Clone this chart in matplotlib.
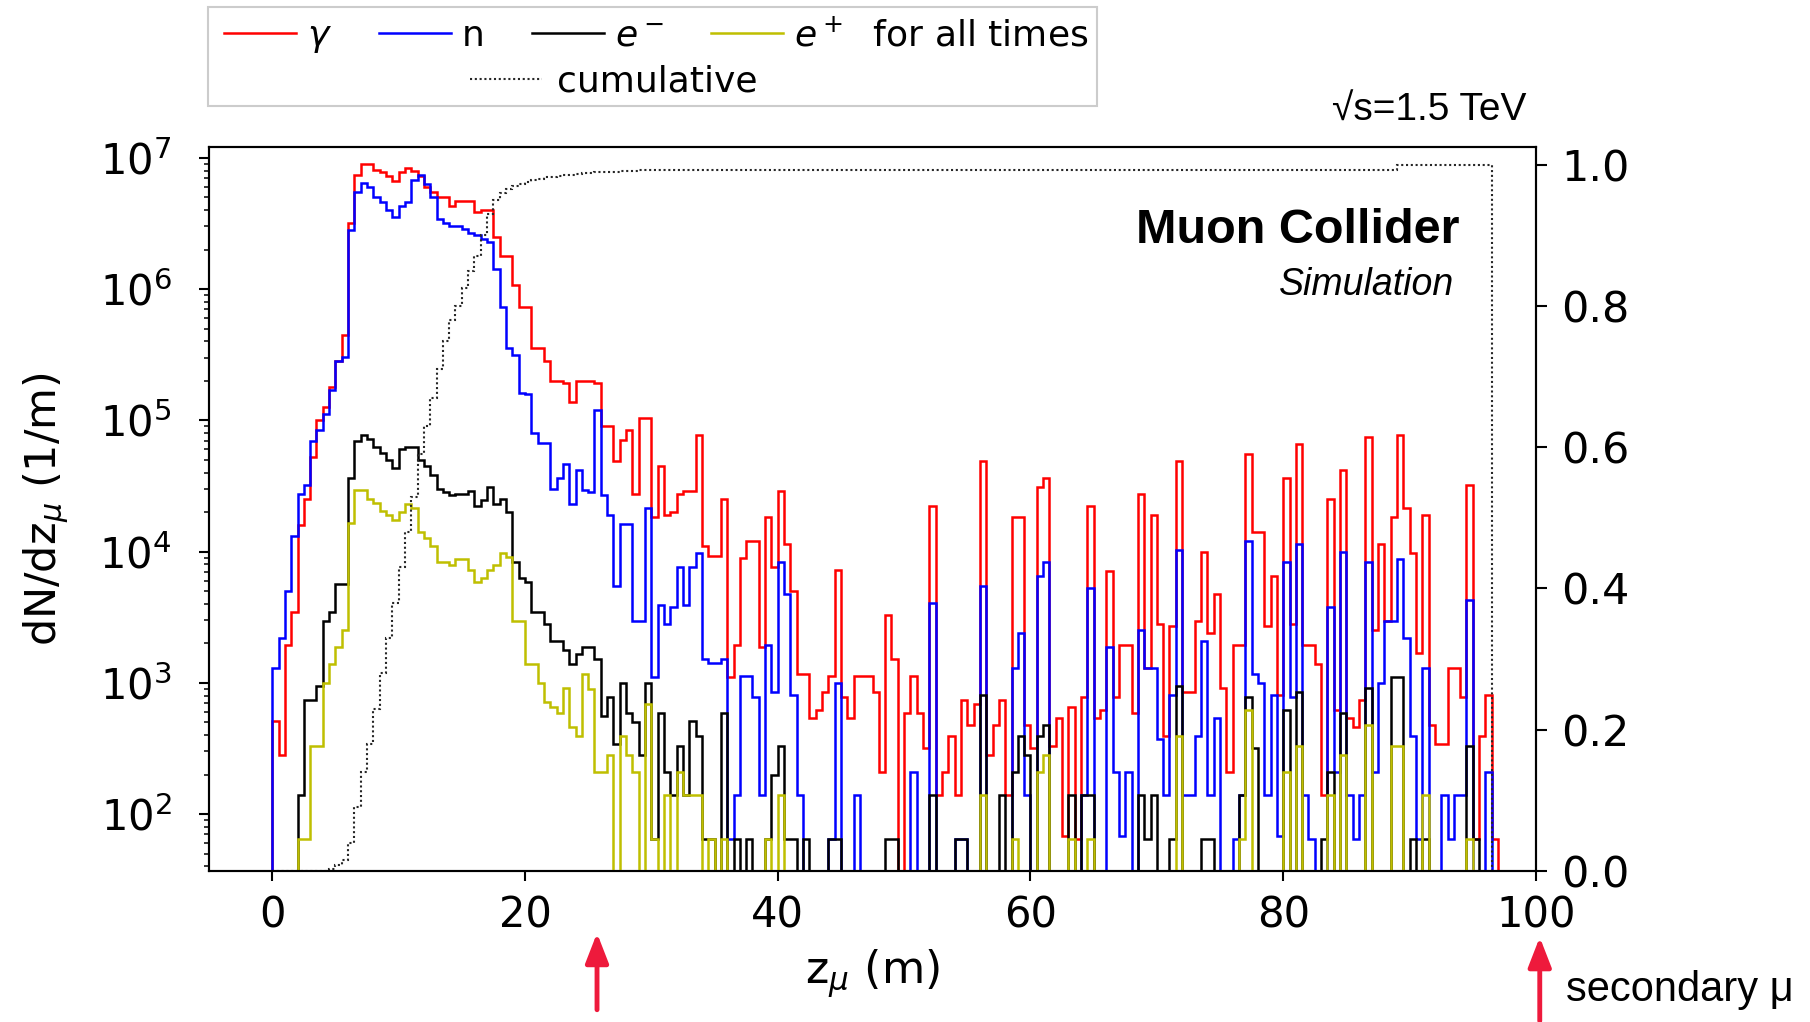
import numpy as np
import matplotlib
matplotlib.use("Agg")
import matplotlib.pyplot as plt
import matplotlib.transforms as mtransforms
from matplotlib.lines import Line2D
from matplotlib.patches import Rectangle

# dN/dz (1/m) per 0.5 m bin in z_mu, starting at z = 0, for all times
bin_width = 0.5

gamma = [
    510, 280, 1950, 3470, 1.58e4, 2.51e4, 5.25e4, 1.0e5, 1.26e5, 1.78e5,
    2.82e5, 4.47e5, 3.16e6, 7.41e6, 8.91e6, 8.91e6, 8.13e6, 7.76e6, 7.24e6, 6.61e6,
    7.76e6, 8.32e6, 7.94e6, 7.24e6, 6.03e6, 5.50e6, 5.01e6, 5.01e6, 4.27e6, 4.68e6,
    4.68e6, 4.68e6, 3.89e6, 3.98e6, 3.98e6, 2.51e6, 1.78e6, 1.78e6, 1.07e6, 7.24e5,
    7.24e5, 3.55e5, 3.55e5, 2.82e5, 2.0e5, 2.0e5, 1.91e5, 1.38e5, 2.0e5, 2.0e5,
    2.0e5, 1.91e5, 9.12e4, 9.12e4, 4.90e4, 7.08e4, 8.51e4, 2.75e4, 1.05e5, 1.05e5,
    1.82e4, 4.47e4, 1.91e4, 2.0e4, 2.75e4, 2.88e4, 2.88e4, 7.76e4, 1.1e4, 9330,
    9330, 2.51e4, 1100, 1950, 8910, 1.2e4, 1.2e4, 1860, 1.82e4, 7590,
    2.88e4, 1.15e4, 5010, 1170, 1170, 540, 620, 850, 1120, 7240,
    780, 540, 1120, 1120, 1120, 850, 210, 3310, 1510, 0,
    590, 1120, 590, 320, 2.24e4, 140, 210, 390, 140, 740,
    480, 690, 4.9e4, 280, 480, 740, 140, 1.82e4, 1.82e4, 480,
    320, 3.09e4, 3.63e4, 330, 540, 68, 660, 65, 780, 2.24e4,
    540, 620, 7080, 780, 1950, 1950, 590, 2.75e4, 1290, 1.91e4,
    2820, 390, 2690, 4.9e4, 850, 850, 2950, 1.0e4, 2400, 4790,
    910, 210, 1950, 1950, 5.5e4, 1.41e4, 1.41e4, 2690, 6460, 810,
    3.63e4, 2820, 6.61e4, 1950, 1950, 1380, 140, 2.51e4, 620, 4.17e4,
    540, 460, 740, 7.41e4, 2510, 1.15e4, 2950, 1.82e4, 7.76e4, 2.14e4,
    9770, 1700, 1.91e4, 480, 340, 340, 1290, 1290, 780, 3.24e4,
    65, 390, 810, 65, 0,
]

neutron = [
    1290, 2190, 5010, 1.32e4, 2.75e4, 3.24e4, 6.92e4, 8.51e4, 1.12e5, 1.70e5,
    2.82e5, 3.02e5, 2.82e6, 5.50e6, 6.46e6, 6.03e6, 5.01e6, 4.57e6, 3.98e6, 3.55e6,
    4.27e6, 4.57e6, 6.76e6, 7.41e6, 6.31e6, 5.01e6, 3.39e6, 3.16e6, 3.02e6, 3.02e6,
    2.88e6, 2.69e6, 2.57e6, 2.40e6, 2.29e6, 1.41e6, 7.24e5, 3.55e5, 3.16e5, 1.62e5,
    1.58e5, 7.94e4, 6.76e4, 6.76e4, 3.02e4, 3.63e4, 4.68e4, 2.29e4, 4.17e4, 2.95e4,
    2.82e4, 1.2e5, 2.69e4, 1.91e4, 5500, 1.62e4, 1.62e4, 2950, 2950, 2.14e4,
    1100, 3890, 2820, 3800, 7590, 3890, 7590, 9770, 1510, 1410,
    1410, 1510, 65, 140, 1120, 1120, 780, 140, 1950, 850,
    8320, 4790, 810, 140, 0, 0, 0, 0, 65, 1000,
    0, 0, 140, 0, 0, 0, 0, 0, 0, 0,
    0, 210, 0, 0, 4070, 0, 0, 0, 65, 65,
    0, 0, 5500, 0, 0, 0, 0, 1290, 2400, 140,
    0, 6460, 8320, 0, 0, 0, 0, 0, 140, 5250,
    0, 0, 1860, 210, 68, 210, 0, 2510, 1290, 1290,
    370, 140, 810, 1.02e4, 140, 140, 390, 2090, 140, 540,
    0, 0, 65, 140, 1.2e4, 1170, 1000, 140, 810, 68,
    8320, 780, 1.15e4, 140, 65, 0, 0, 3800, 210, 1.0e4,
    140, 65, 140, 8320, 210, 1000, 2950, 2950, 8710, 2190,
    390, 65, 1290, 0, 0, 140, 65, 140, 140, 4270,
    0, 0, 210, 0, 0,
]

electron = [
    0, 0, 0, 0, 140, 740, 740, 950, 2950, 3470,
    5620, 5620, 3.63e4, 6.92e4, 7.76e4, 7.24e4, 6.31e4, 5.62e4, 5.01e4, 4.37e4,
    6.03e4, 6.31e4, 6.31e4, 5.01e4, 4.47e4, 3.80e4, 3.02e4, 2.82e4, 2.69e4, 2.75e4,
    2.75e4, 2.88e4, 2.24e4, 2.45e4, 3.09e4, 2.29e4, 2.51e4, 2.0e4, 8320, 6310,
    5890, 3470, 3470, 2820, 2090, 2090, 1780, 1380, 1660, 1860,
    1860, 1510, 560, 780, 340, 1000, 590, 500, 280, 1000,
    65, 590, 210, 140, 330, 140, 510, 390, 65, 65,
    0, 590, 0, 65, 0, 65, 0, 0, 65, 200,
    330, 65, 65, 0, 65, 0, 0, 0, 65, 65,
    0, 0, 0, 0, 0, 0, 0, 65, 65, 0,
    0, 0, 0, 0, 140, 0, 0, 0, 65, 65,
    0, 0, 810, 0, 0, 140, 0, 210, 390, 280,
    0, 390, 480, 0, 0, 0, 140, 0, 140, 140,
    0, 0, 0, 0, 0, 0, 0, 140, 65, 140,
    0, 0, 65, 950, 0, 0, 0, 65, 65, 0,
    0, 0, 0, 140, 780, 320, 0, 0, 0, 0,
    620, 0, 850, 0, 0, 0, 65, 210, 0, 590,
    0, 0, 0, 910, 0, 0, 0, 1100, 1100, 0,
    65, 0, 65, 0, 0, 0, 0, 0, 0, 330,
    65, 0, 0, 0, 0,
]

positron = [
    0, 0, 0, 0, 65, 65, 330, 330, 1000, 1380,
    1860, 2510, 1.66e4, 2.95e4, 2.95e4, 2.51e4, 2.34e4, 2.04e4, 1.91e4, 1.74e4,
    2.0e4, 2.29e4, 2.14e4, 1.41e4, 1.26e4, 1.1e4, 8320, 8320, 7940, 8710,
    8710, 7240, 5890, 6310, 7240, 7940, 9770, 9120, 2950, 2950,
    1380, 1380, 1000, 720, 660, 590, 910, 460, 390, 1170,
    890, 210, 210, 280, 0, 390, 280, 210, 0, 690,
    65, 0, 140, 0, 210, 140, 140, 140, 0, 65,
    0, 65, 0, 0, 0, 0, 0, 0, 65, 0,
    140, 0, 0, 0, 0, 0, 0, 0, 0, 0,
    0, 0, 0, 0, 0, 0, 0, 0, 0, 0,
    0, 0, 0, 0, 0, 0, 0, 0, 0, 0,
    0, 0, 140, 0, 0, 0, 0, 65, 0, 0,
    0, 210, 280, 0, 0, 0, 65, 0, 0, 65,
    0, 0, 0, 0, 0, 0, 0, 0, 0, 0,
    0, 0, 0, 390, 0, 0, 0, 0, 0, 0,
    0, 0, 0, 65, 620, 0, 0, 0, 0, 0,
    210, 0, 330, 0, 0, 0, 0, 140, 0, 280,
    0, 0, 0, 480, 0, 0, 0, 330, 330, 0,
    0, 0, 140, 0, 0, 0, 0, 0, 0, 65,
    0, 0, 0, 0, 0,
]

# normalised cumulative fraction, same bins, up to 96.5 m
cumulative = [
    0, 0, 0, 0, 0, 0, 0, 0, 0, 0.003,
    0.008, 0.015, 0.04, 0.09, 0.14, 0.18, 0.23, 0.28, 0.33, 0.38,
    0.43, 0.48, 0.53, 0.59, 0.63, 0.67, 0.71, 0.75, 0.78, 0.80,
    0.825, 0.85, 0.87, 0.90, 0.93, 0.95, 0.96, 0.966, 0.970, 0.973,
    0.976, 0.978, 0.980, 0.982, 0.983, 0.984, 0.985, 0.986, 0.987, 0.988,
    0.988, 0.989, 0.989, 0.990, 0.990, 0.991, 0.991, 0.991, 0.992, 0.992,
    0.992, 0.992, 0.993, 0.993, 0.993, 0.993, 0.993, 0.993, 0.993, 0.993,
    0.993, 0.993, 0.993, 0.993, 0.993, 0.993, 0.993, 0.993, 0.993, 0.993,
    0.993, 0.993, 0.993, 0.993, 0.993, 0.993, 0.993, 0.993, 0.993, 0.993,
    0.993, 0.993, 0.993, 0.993, 0.993, 0.993, 0.993, 0.993, 0.993, 0.993,
    0.993, 0.993, 0.993, 0.993, 0.993, 0.993, 0.993, 0.993, 0.993, 0.993,
    0.993, 0.993, 0.993, 0.993, 0.993, 0.993, 0.993, 0.993, 0.993, 0.993,
    0.993, 0.993, 0.993, 0.993, 0.993, 0.993, 0.993, 0.993, 0.993, 0.993,
    0.993, 0.993, 0.993, 0.993, 0.993, 0.993, 0.993, 0.993, 0.993, 0.993,
    0.993, 0.993, 0.993, 0.993, 0.993, 0.993, 0.993, 0.993, 0.993, 0.993,
    0.993, 0.993, 0.993, 0.993, 0.993, 0.993, 0.993, 0.993, 0.993, 0.993,
    0.993, 0.993, 0.993, 0.993, 0.993, 0.993, 0.993, 0.993, 0.993, 0.993,
    0.993, 0.993, 0.993, 0.993, 0.993, 0.993, 0.993, 0.993, 1.0, 1.0,
    1.0, 1.0, 1.0, 1.0, 1.0, 1.0, 1.0, 1.0, 1.0, 1.0,
    1.0, 1.0, 1.0,
]

labels = [r"$\gamma$", "n", r"$e^-$", r"$e^+$  for all times"]
colors = ["red", "blue", "black", "y"]

edges = np.arange(len(gamma) + 1) * bin_width
cum_edges = edges[:len(cumulative) + 1]

fig = plt.figure(figsize=(18.10, 10.22), dpi=100)
ax = fig.add_axes([0.1155, 0.1477, 0.7331, 0.7085])
ax2 = ax.twinx()

lw = 1.8
for i, (vals, c) in enumerate(zip([gamma, neutron, electron, positron], colors)):
    ax.stairs(vals, edges, color=c, lw=lw, zorder=2 + i)

ax.set_yscale("log")
ax.set_ylim(36.8, 1.21e7)
ax.set_xlim(-5, 100)

cum_style = dict(color="0.15", lw=1.5, ls=(0, (1, 1.3)))
ax2.stairs(cumulative, cum_edges, **cum_style)
ax2.set_ylim(0, 1.025)
ax2.set_yticks([0.0, 0.2, 0.4, 0.6, 0.8, 1.0])

for a in (ax, ax2):
    for s in a.spines.values():
        s.set_linewidth(1.5)

ax.tick_params(axis="x", which="major", labelsize=30, width=1.5, length=7, pad=10)
ax.tick_params(axis="y", which="major", labelsize=30, width=1.5, length=7, pad=20)
ax.tick_params(axis="y", which="minor", width=1.1, length=3.5)
ax2.tick_params(axis="y", labelsize=31, width=1.5, length=8, pad=10)

ax.set_xlabel(r"z$_\mu$ (m)", fontsize=32)
ax.set_ylabel(r"dN/dz$_\mu$ (1/m)", fontsize=31)
ax.xaxis.set_label_coords(0.5, -0.105)
ax.yaxis.set_label_coords(-0.104, 0.5)

sans = ["Liberation Sans", "DejaVu Sans"]
ax.text(0.9427, 0.884, "Muon Collider", transform=ax.transAxes, ha="right",
        va="center", fontsize=35, fontweight="bold", family=sans)
ax.text(0.938, 0.809, "Simulation", transform=ax.transAxes, ha="right",
        va="center", fontsize=27, style="italic", family=sans)
ax.text(0.9925, 1.036, "√s=1.5 TeV", transform=ax.transAxes, ha="right",
        va="baseline", fontsize=28, family=sans)

# legend: four species on the first row, cumulative underneath, one frame
handles = [Line2D([], [], color=c, lw=lw) for c in colors]
fig.legend(handles, labels, loc="center", bbox_to_anchor=(0.3625, 0.9640),
           ncol=4, frameon=False, fontsize=26, handlelength=2.0,
           handletextpad=0.3, columnspacing=1.3)
fig.legend([Line2D([], [], **cum_style)], ["cumulative"], loc="center",
           bbox_to_anchor=(0.339, 0.9200), frameon=False, fontsize=26,
           handlelength=2.0, handletextpad=0.4)
fig.add_artist(Rectangle((0.1149, 0.8963), 0.4912, 0.0969, transform=fig.transFigure,
                         fill=False, edgecolor="0.8", lw=1.5))

# arrows under the z axis
trans = mtransforms.blended_transform_factory(ax.transData, fig.transFigure)
arrow_z = [25.7, 100.3]
for z, y0, y1 in zip(arrow_z, [0.012, 0.001], [0.087, 0.083]):
    ax.annotate("", xy=(z, y1), xycoords=trans, xytext=(z, y0), textcoords=trans,
                arrowprops=dict(arrowstyle="-|>,head_length=0.9,head_width=0.35",
                                color="#ee1a3c", lw=3.5, shrinkA=0, shrinkB=0,
                                mutation_scale=20),
                annotation_clip=False)
fig.text(0.8652, 0.0313, "secondary μ", fontsize=30, ha="left", va="center", family=sans)

fig.savefig("out.png", dpi=100)
